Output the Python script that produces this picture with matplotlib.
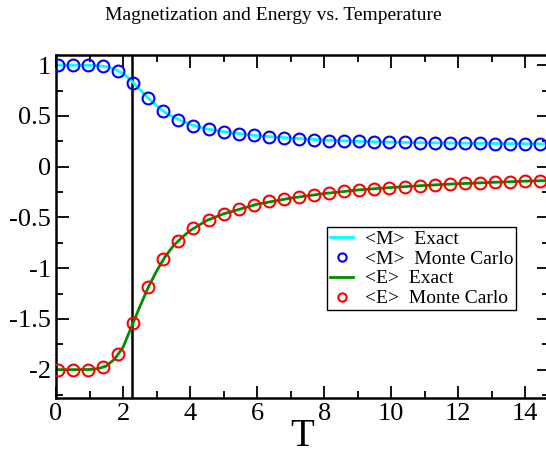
import matplotlib
matplotlib.use("Agg")
import matplotlib.pyplot as plt
from matplotlib.ticker import MultipleLocator

plt.rcParams['font.family'] = ['Liberation Serif', 'DejaVu Serif']

# Monte Carlo sample temperatures and measured values
t_mc = [0.05, 0.5, 0.95, 1.4, 1.85, 2.3, 2.75, 3.2, 3.65, 4.1, 4.55, 5.0, 5.45,
        5.9, 6.35, 6.8, 7.25, 7.7, 8.15, 8.6, 9.05, 9.5, 9.95, 10.4, 10.85,
        11.3, 11.75, 12.2, 12.65, 13.1, 13.55, 14.0, 14.45]
m_mc = [1.0, 1.0, 1.0, 0.99, 0.945, 0.826, 0.675, 0.545, 0.462, 0.404, 0.368,
        0.344, 0.325, 0.309, 0.295, 0.281, 0.275, 0.263, 0.257, 0.252, 0.248,
        0.245, 0.242, 0.239, 0.237, 0.235, 0.233, 0.231, 0.229, 0.228, 0.226,
        0.225, 0.224]
e_mc = [-2.0, -2.0, -2.0, -1.973, -1.842, -1.541, -1.186, -0.908, -0.728,
        -0.606, -0.524, -0.465, -0.416, -0.377, -0.341, -0.318, -0.295, -0.276,
        -0.258, -0.243, -0.229, -0.217, -0.206, -0.196, -0.187, -0.179, -0.172,
        -0.165, -0.159, -0.153, -0.148, -0.143, -0.138]

# exact curves
t_ex = [0.0, 0.5, 1.0, 1.25, 1.5, 1.75, 2.0, 2.25, 2.5, 2.75, 3.0, 3.25, 3.5,
        3.75, 4.0, 4.5, 5.0, 6.0, 7.0, 8.0, 9.0, 10.0, 11.0, 12.0, 13.0, 14.0, 14.8]
m_ex = [1.0, 1.0, 0.999, 0.995, 0.985, 0.96, 0.92, 0.845, 0.76, 0.675, 0.60,
        0.535, 0.49, 0.45, 0.415, 0.372, 0.344, 0.305, 0.282, 0.262, 0.249,
        0.241, 0.236, 0.232, 0.229, 0.226, 0.224]
e_ex = [-2.0, -2.0, -1.999, -1.99, -1.965, -1.895, -1.78, -1.58, -1.38, -1.19,
        -1.03, -0.89, -0.78, -0.70, -0.63, -0.53, -0.465, -0.37, -0.31, -0.265,
        -0.23, -0.205, -0.185, -0.168, -0.155, -0.143, -0.136]

t_crit = 2.269

fig = plt.figure(figsize=(5.46, 4.57), dpi=100)
# right spine sits just past the image edge, like the original
ax = fig.add_axes([0.1026, 0.129, 0.9029, 0.7506])

ax.axvline(t_crit, color='black', lw=1.8, zorder=1)
ax.plot(t_ex, m_ex, color='#00ffff', lw=2, label='<M>  Exact', zorder=2)
ax.plot(t_mc, m_mc, 'o', mfc='none', mec='#0000ff', ms=8.5, mew=1.5,
        label='<M>  Monte Carlo', zorder=3)
ax.plot(t_ex, e_ex, color='#008b00', lw=2, label='<E>  Exact', zorder=2)
ax.plot(t_mc, e_mc, 'o', mfc='none', mec='#ff0000', ms=8.5, mew=1.5,
        label='<E>  Monte Carlo', zorder=3)

ax.set_xlim(0, 14.71)
ax.set_ylim(-2.28, 1.1)
ax.xaxis.set_major_locator(MultipleLocator(2))
ax.xaxis.set_minor_locator(MultipleLocator(1))
ax.yaxis.set_major_locator(MultipleLocator(0.5))
ax.yaxis.set_minor_locator(MultipleLocator(0.25))
ax.tick_params(which='both', direction='in', top=True, right=True,
               labelsize=19, width=1.3)
ax.tick_params(which='major', length=9)
ax.tick_params(which='minor', length=5)
ax.set_yticks([1, 0.5, 0, -0.5, -1, -1.5, -2])
ax.set_yticklabels(['1', '0.5', '0', '-0.5', '-1', '-1.5', '-2'])
for s in ax.spines.values():
    s.set_linewidth(1.8)

ax.set_xlabel('T', fontsize=28, labelpad=-5)
fig.text(0.5, 0.965, 'Magnetization and Energy vs. Temperature',
         ha='center', va='center', fontsize=14)

leg = ax.legend(loc='upper left', bbox_to_anchor=(0.55, 0.4985), fontsize=14,
                frameon=True, fancybox=False, edgecolor='black', framealpha=1,
                handlelength=1.2, handletextpad=0.6, borderpad=0.15,
                labelspacing=0.12, markerscale=0.7, borderaxespad=0)
leg.get_frame().set_linewidth(1.0)

fig.savefig('out.png', dpi=100)
